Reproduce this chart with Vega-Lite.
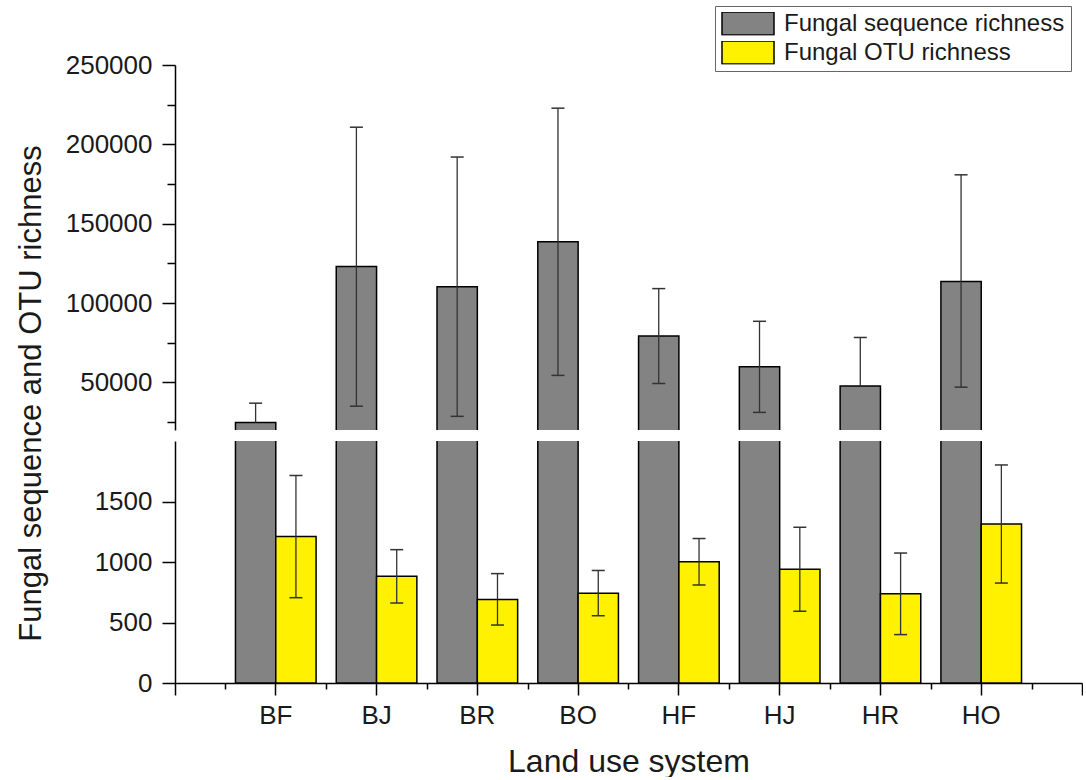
{
  "$schema": "https://vega.github.io/schema/vega-lite/v6.json",
  "background": "white",
  "padding": {"left": 15, "top": 5, "right": 0, "bottom": 0},
  "config": {
    "font": "Liberation Sans",
    "view": {"stroke": null},
    "axis": {
      "domainColor": "black", "domainWidth": 1.5, "tickColor": "black", "tickWidth": 1.5,
      "labelColor": "#1a1a1a", "titleColor": "#1a1a1a", "titleFontWeight": "normal",
      "grid": false, "labelFont": "Liberation Sans", "titleFont": "Liberation Sans"
    },
    "legend": {
      "orient": "none", "legendX": 540, "legendY": -59,
      "strokeColor": "#666", "fillColor": "white", "padding": 6,
      "symbolType": "M-1,-0.44H1V0.44H-1Z", "symbolSize": 2704,
      "symbolStrokeColor": "black", "symbolStrokeWidth": 1.5,
      "labelFontSize": 24, "labelFont": "Liberation Sans", "labelColor": "#1a1a1a",
      "clipHeight": 23, "rowPadding": 4, "labelOffset": 9, "labelLimit": 400
    }
  },
  "datasets": {
    "d": [
      {"site": "BF", "series": "Fungal sequence richness", "mean": 24700, "lo": 12500, "hi": 36900},
      {"site": "BJ", "series": "Fungal sequence richness", "mean": 123000, "lo": 35000, "hi": 210800},
      {"site": "BR", "series": "Fungal sequence richness", "mean": 110200, "lo": 28600, "hi": 192000},
      {"site": "BO", "series": "Fungal sequence richness", "mean": 138600, "lo": 54400, "hi": 222800},
      {"site": "HF", "series": "Fungal sequence richness", "mean": 79200, "lo": 49300, "hi": 109100},
      {"site": "HJ", "series": "Fungal sequence richness", "mean": 59800, "lo": 31100, "hi": 88500},
      {"site": "HR", "series": "Fungal sequence richness", "mean": 47800, "lo": 17300, "hi": 78300},
      {"site": "HO", "series": "Fungal sequence richness", "mean": 113600, "lo": 47000, "hi": 180800},
      {"site": "BF", "series": "Fungal OTU richness", "mean": 1210, "lo": 705, "hi": 1715},
      {"site": "BJ", "series": "Fungal OTU richness", "mean": 882, "lo": 661, "hi": 1102},
      {"site": "BR", "series": "Fungal OTU richness", "mean": 690, "lo": 479, "hi": 904},
      {"site": "BO", "series": "Fungal OTU richness", "mean": 742, "lo": 556, "hi": 930},
      {"site": "HF", "series": "Fungal OTU richness", "mean": 1002, "lo": 810, "hi": 1194},
      {"site": "HJ", "series": "Fungal OTU richness", "mean": 940, "lo": 593, "hi": 1287},
      {"site": "HR", "series": "Fungal OTU richness", "mean": 737, "lo": 400, "hi": 1074},
      {"site": "HO", "series": "Fungal OTU richness", "mean": 1314, "lo": 826, "hi": 1802}
    ]
  },
  "bounds": "flush",
  "spacing": 11,
  "resolve": {"scale": {"y": "independent", "x": "shared", "xOffset": "shared", "color": "shared"}},
  "vconcat": [
    {
      "width": 907,
      "height": 365,
      "data": {"name": "d"},
      "layer": [
        {
          "mark": {"type": "bar", "clip": true, "stroke": "black", "strokeWidth": 1.5},
          "encoding": {
            "x": {"field": "site", "type": "nominal", "sort": ["BF","BJ","BR","BO","HF","HJ","HR","HO"], "scale": {"paddingInner": 0.2, "paddingOuter": 0.6}, "axis": null},
            "xOffset": {"field": "series", "type": "nominal", "sort": ["Fungal sequence richness", "Fungal OTU richness"]},
            "y": {
              "field": "mean", "type": "quantitative",
              "scale": {"domain": [20000, 250000], "nice": false, "zero": false},
              "axis": {
                "title": null,
                "values": [25000, 50000, 75000, 100000, 125000, 150000, 175000, 200000, 225000, 250000],
                "labelExpr": "datum.value % 50000 === 0 ? format(datum.value, 'd') : ''",
                "tickSize": {"condition": {"test": "datum.value % 50000 === 0", "value": 13}, "value": 8},
                "labelFontSize": 26, "labelPadding": 10
              }
            },
            "color": {
              "field": "series", "type": "nominal",
              "scale": {"domain": ["Fungal sequence richness", "Fungal OTU richness"], "range": ["#838383", "#FFF100"]},
              "legend": {"title": null}
            }
          }
        },
        {
          "transform": [{"filter": "datum.series === 'Fungal sequence richness'"}],
          "mark": {"type": "rule", "clip": true, "color": "#333333", "strokeWidth": 1.3},
          "encoding": {
            "x": {"field": "site", "type": "nominal", "sort": ["BF","BJ","BR","BO","HF","HJ","HR","HO"]},
            "xOffset": {"field": "series", "type": "nominal", "sort": ["Fungal sequence richness", "Fungal OTU richness"]},
            "y": {"field": "mean", "type": "quantitative"},
            "y2": {"field": "hi"}
          }
        },
        {
          "transform": [{"filter": "datum.series === 'Fungal sequence richness' && datum.lo >= 20000"}],
          "mark": {"type": "rule", "clip": true, "color": "#333333", "strokeWidth": 1.3},
          "encoding": {
            "x": {"field": "site", "type": "nominal", "sort": ["BF","BJ","BR","BO","HF","HJ","HR","HO"]},
            "xOffset": {"field": "series", "type": "nominal", "sort": ["Fungal sequence richness", "Fungal OTU richness"]},
            "y": {"field": "lo", "type": "quantitative"},
            "y2": {"field": "mean"}
          }
        },
        {
          "transform": [{"filter": "datum.series === 'Fungal sequence richness'"}],
          "mark": {"type": "tick", "clip": true, "size": 13, "thickness": 1.5, "color": "#333333", "opacity": 1},
          "encoding": {
            "x": {"field": "site", "type": "nominal", "sort": ["BF","BJ","BR","BO","HF","HJ","HR","HO"]},
            "xOffset": {"field": "series", "type": "nominal", "sort": ["Fungal sequence richness", "Fungal OTU richness"]},
            "y": {"field": "hi", "type": "quantitative"}
          }
        },
        {
          "transform": [{"filter": "datum.series === 'Fungal sequence richness' && datum.lo >= 20000"}],
          "mark": {"type": "tick", "clip": true, "size": 13, "thickness": 1.5, "color": "#333333", "opacity": 1},
          "encoding": {
            "x": {"field": "site", "type": "nominal", "sort": ["BF","BJ","BR","BO","HF","HJ","HR","HO"]},
            "xOffset": {"field": "series", "type": "nominal", "sort": ["Fungal sequence richness", "Fungal OTU richness"]},
            "y": {"field": "lo", "type": "quantitative"}
          }
        }
      ]
    },
    {
      "width": 907,
      "height": 242,
      "data": {"name": "d"},
      "resolve": {"axis": {"x": "independent"}},
      "layer": [
        {
          "mark": {"type": "bar", "clip": true, "stroke": "black", "strokeWidth": 1.5},
          "encoding": {
            "x": {
              "field": "site", "type": "nominal", "sort": ["BF","BJ","BR","BO","HF","HJ","HR","HO"],
              "axis": {"title": "Land use system", "labelFontSize": 26, "titleFontSize": 32, "tickSize": 12, "labelPadding": 7, "titlePadding": 18, "labelAngle": 0, "orient": "bottom"}
            },
            "xOffset": {"field": "series", "type": "nominal", "sort": ["Fungal sequence richness", "Fungal OTU richness"]},
            "y": {
              "field": "mean", "type": "quantitative",
              "scale": {"domain": [0, 2000], "nice": false},
              "axis": {
                "title": "Fungal sequence and OTU richness",
                "titleFontSize": 31, "titleX": -128, "titleY": -48,
                "values": [0, 250, 500, 750, 1000, 1250, 1500, 1750],
                "labelExpr": "datum.value % 500 === 0 ? format(datum.value, 'd') : ''",
                "tickSize": {"condition": {"test": "datum.value % 500 === 0", "value": 13}, "value": 8},
                "labelFontSize": 26, "labelPadding": 10
              }
            },
            "color": {"field": "series", "type": "nominal", "legend": {"title": null}}
          }
        },
        {
          "transform": [{"filter": "datum.series === 'Fungal OTU richness'"}],
          "mark": {"type": "rule", "clip": true, "color": "#333333", "strokeWidth": 1.3},
          "encoding": {
            "x": {
              "field": "site", "type": "nominal", "sort": ["BF","BJ","BR","BO","HF","HJ","HR","HO"],
              "axis": {"orient": "bottom", "tickOffset": -50.4, "labels": false, "domain": false, "tickSize": 6, "title": null}
            },
            "xOffset": {"field": "series", "type": "nominal", "sort": ["Fungal sequence richness", "Fungal OTU richness"]},
            "y": {"field": "lo", "type": "quantitative"},
            "y2": {"field": "mean"}
          }
        },
        {
          "transform": [{"filter": "datum.series === 'Fungal OTU richness'"}],
          "mark": {"type": "rule", "clip": true, "color": "#333333", "strokeWidth": 1.3},
          "encoding": {
            "x": {
              "field": "site", "type": "nominal", "sort": ["BF","BJ","BR","BO","HF","HJ","HR","HO"],
              "axis": {"orient": "bottom", "values": ["HO"], "tickOffset": 50.4, "labels": false, "domain": false, "tickSize": 6, "title": null}
            },
            "xOffset": {"field": "series", "type": "nominal", "sort": ["Fungal sequence richness", "Fungal OTU richness"]},
            "y": {"field": "mean", "type": "quantitative"},
            "y2": {"field": "hi"}
          }
        },
        {
          "transform": [{"filter": "datum.series === 'Fungal OTU richness'"}],
          "mark": {"type": "tick", "clip": true, "size": 13, "thickness": 1.5, "color": "#333333", "opacity": 1},
          "encoding": {
            "x": {
              "field": "site", "type": "nominal", "sort": ["BF","BJ","BR","BO","HF","HJ","HR","HO"],
              "axis": {"orient": "bottom", "values": ["BF"], "tickOffset": -100.8, "labels": false, "domain": false, "tickSize": 12, "title": null}
            },
            "xOffset": {"field": "series", "type": "nominal", "sort": ["Fungal sequence richness", "Fungal OTU richness"]},
            "y": {"field": "hi", "type": "quantitative"}
          }
        },
        {
          "transform": [{"filter": "datum.series === 'Fungal OTU richness'"}],
          "mark": {"type": "tick", "clip": true, "size": 13, "thickness": 1.5, "color": "#333333", "opacity": 1},
          "encoding": {
            "x": {
              "field": "site", "type": "nominal", "sort": ["BF","BJ","BR","BO","HF","HJ","HR","HO"],
              "axis": {"orient": "bottom", "values": ["HO"], "tickOffset": 100.8, "labels": false, "domain": false, "tickSize": 12, "title": null}
            },
            "xOffset": {"field": "series", "type": "nominal", "sort": ["Fungal sequence richness", "Fungal OTU richness"]},
            "y": {"field": "lo", "type": "quantitative"}
          }
        }
      ]
    }
  ]
}
